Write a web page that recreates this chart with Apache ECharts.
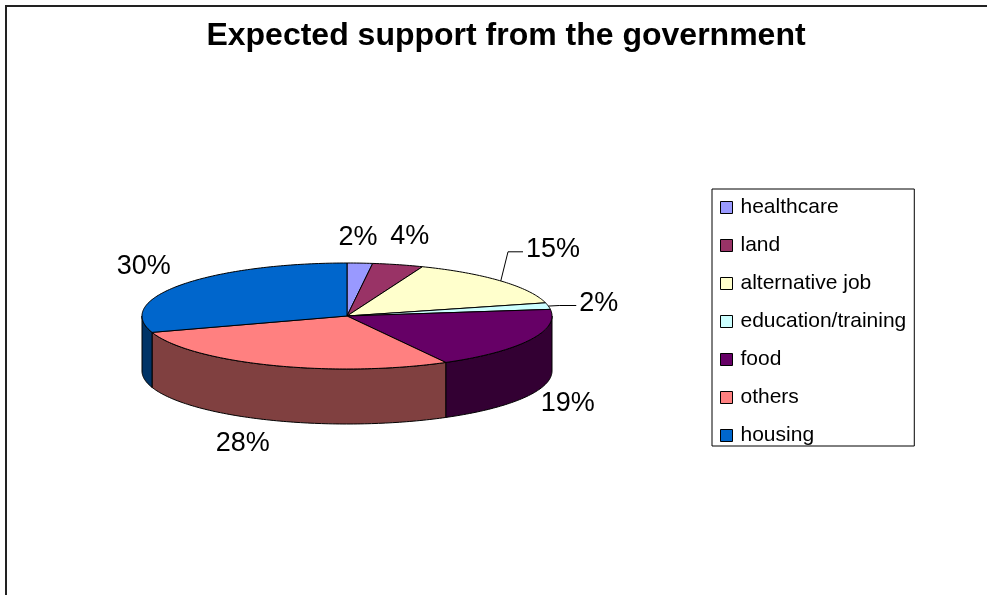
<!DOCTYPE html>
<html>
<head>
<meta charset="utf-8">
<script src="https://cdn.jsdelivr.net/npm/echarts@6/dist/echarts.min.js"></script>
<style>
html, body { margin: 0; padding: 0; background: #fff; }
#chart { width: 987px; height: 595px; }
</style>
</head>
<body>
<div id="chart"></div>
<script>
var categories = ['healthcare', 'land', 'alternative job', 'education/training', 'food', 'others', 'housing'];
var values = [2, 4, 15, 2, 19, 28, 30];
var colors = ['#9999FF', '#993366', '#FFFFCC', '#CCFFFF', '#660066', '#FF8080', '#0066CC'];

// label nudges (px) and leader elbow length (0 = no leader line)
var labelShift = [[-4, 9], [3, 6], [26, -8], [16, 4], [7, -2], [-16, -4], [-9, 2]];
var leaderElbow = [0, 0, 18, 20, 0, 0, 0];

var cx = 347, cy = 316, rx = 205, ry = 53, depth = 55;
var fontSize = 27;
var font = fontSize + 'px "Liberation Sans", Arial, sans-serif';

var total = values.reduce(function (a, b) { return a + b; }, 0);
var starts = [];
var acc = 0;
values.forEach(function (v) { starts.push(acc / total * Math.PI * 2); acc += v; });

function pt(a, dy) {
    return [cx + rx * Math.sin(a), cy - ry * Math.cos(a) + (dy || 0)];
}
function arc(a1, a2, dy) {
    var n = Math.max(2, Math.ceil((a2 - a1) / (Math.PI / 180)));
    var p = [];
    for (var i = 0; i <= n; i++) {
        p.push(pt(a1 + (a2 - a1) * i / n, dy));
    }
    return p;
}
function shade(hex, f) {
    var n = parseInt(hex.slice(1), 16);
    var r = Math.round((n >> 16) * f), g = Math.round(((n >> 8) & 255) * f), b = Math.round((n & 255) * f);
    return 'rgb(' + r + ',' + g + ',' + b + ')';
}

var chart = echarts.init(document.getElementById('chart'));

var series = categories.map(function (name, i) {
    return {
        type: 'custom',
        name: name,
        coordinateSystem: 'none',
        z: 2,
        itemStyle: { color: colors[i] },
        data: [values[i]],
        renderItem: function (params, api) {
            var a1 = starts[i];
            var a2 = a1 + api.value(0) / total * Math.PI * 2;
            var children = [];
            // front side wall
            var s = Math.max(a1, Math.PI / 2), e = Math.min(a2, Math.PI * 1.5);
            if (e > s) {
                children.push({
                    type: 'polygon',
                    z2: 1,
                    shape: { points: arc(s, e, 0).concat(arc(s, e, depth).reverse()) },
                    style: { fill: shade(colors[i], 0.5), stroke: '#000', lineWidth: 1, lineJoin: 'round' }
                });
            }
            // top face
            children.push({
                type: 'polygon',
                z2: 10,
                shape: { points: [[cx, cy]].concat(arc(a1, a2, 0)) },
                style: { fill: colors[i], stroke: '#000', lineWidth: 1, lineJoin: 'round' }
            });
            // label
            var mid = (a1 + a2) / 2;
            var lx = cx + (rx + 35) * Math.sin(mid) + labelShift[i][0];
            var ly = cy - (ry + 35) * Math.cos(mid) + (Math.cos(mid) < 0 ? depth * 0.9 : 0) + labelShift[i][1];
            var txt = Math.round(api.value(0) / total * 100) + '%';
            children.push({
                type: 'text',
                z2: 20,
                x: lx,
                y: ly,
                style: {
                    text: txt, font: font, fill: '#000',
                    align: 'center', verticalAlign: 'middle',
                    textAlign: 'center', textVerticalAlign: 'middle'
                }
            });
            if (leaderElbow[i]) {
                var half = ((txt.length - 1) * 0.556 + 0.889) * fontSize / 2;
                var left = lx - half;
                children.push({
                    type: 'polyline',
                    z2: 20,
                    shape: { points: [pt(mid, 0), [left - leaderElbow[i], ly + 2], [left - 3, ly + 2]] },
                    style: { stroke: '#000', lineWidth: 1, fill: null }
                });
            }
            return { type: 'group', children: children };
        }
    };
});

var option = {
    animation: false,
    backgroundColor: '#fff',
    legend: {
        orient: 'vertical',
        left: 712,
        top: 189,
        padding: [8, 8, 0, 8],
        itemGap: 17,
        itemWidth: 12,
        itemHeight: 12,
        icon: 'rect',
        borderColor: '#000',
        borderWidth: 1,
        selectedMode: false,
        textStyle: { color: '#000', fontSize: 21, fontFamily: '"Liberation Sans", Arial, sans-serif', padding: [0, 0, 0, 3] },
        data: categories.map(function (name, i) {
            return { name: name, itemStyle: { color: colors[i], borderColor: '#000', borderWidth: 1 } };
        })
    },
    graphic: [
        {
            type: 'rect',
            shape: { x: 6, y: 6, width: 1200, height: 800 },
            style: { fill: null, stroke: '#222', lineWidth: 2 }
        },
        {
            type: 'text',
            x: 506,
            y: 36,
            style: {
                text: 'Expected support from the government',
                font: 'bold 32px "Liberation Sans", Arial, sans-serif',
                fill: '#000',
                textAlign: 'center',
                textVerticalAlign: 'middle'
            }
        }
    ],
    series: series
};
chart.setOption(option);
</script>
</body>
</html>
